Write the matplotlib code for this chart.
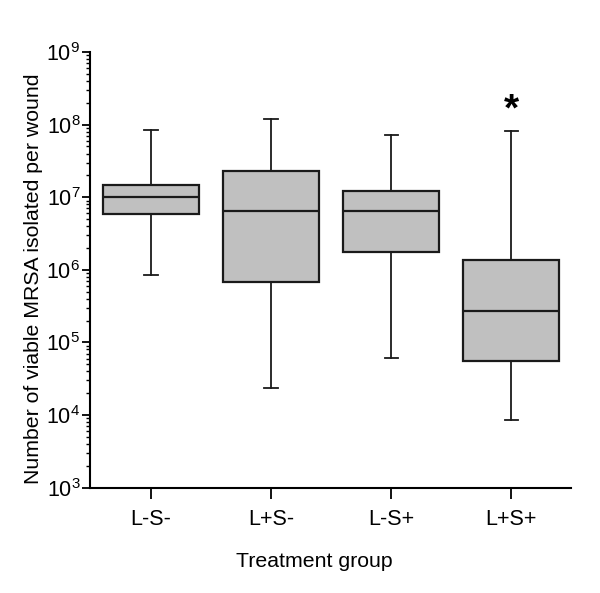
import matplotlib
matplotlib.use('Agg')
import matplotlib.pyplot as plt
import numpy as np

plt.rcParams['font.family'] = ['Liberation Sans', 'DejaVu Sans']
plt.rcParams['mathtext.fontset'] = 'custom'
plt.rcParams['mathtext.rm'] = 'Liberation Sans'
plt.rcParams['mathtext.it'] = 'Liberation Sans'

# valores (CFU por ferida)
grupos = ['L-S-', 'L+S-', 'L-S+', 'L+S+']
whis_min = [8.4e5, 2.35e4, 6.2e4, 8.6e3]
q1 = [5.9e6, 6.8e5, 1.74e6, 5.5e4]
mediana = [1.0e7, 6.4e6, 6.4e6, 2.7e5]
q3 = [1.46e7, 2.28e7, 1.2e7, 1.36e6]
whis_max = [8.4e7, 1.2e8, 7.3e7, 8.2e7]
signif = [False, False, False, True]

stats = []
for i in range(len(grupos)):
    stats.append({'whislo': whis_min[i], 'q1': q1[i], 'med': mediana[i],
                  'q3': q3[i], 'whishi': whis_max[i], 'fliers': []})

fig = plt.figure(figsize=(6, 5.93), dpi=100)
ax = fig.add_axes([0.15, 0.1776, 0.802, 0.7347])

ax.bxp(stats, positions=range(len(grupos)), widths=0.8, patch_artist=True,
       showfliers=False, capwidths=0.11,
       boxprops=dict(facecolor='#c0c0c0', edgecolor='#1a1a1a', linewidth=1.6),
       medianprops=dict(color='#1a1a1a', linewidth=1.6),
       whiskerprops=dict(color='#1a1a1a', linewidth=1.3),
       capprops=dict(color='#1a1a1a', linewidth=1.3))

for i in range(len(grupos)):
    if signif[i]:
        ax.text(i, 1.55e8, '*', ha='center', va='center', fontsize=28,
                fontweight='bold')

ax.set_yscale('log')
ax.set_ylim(1e3, 1e9)
ax.set_xlim(-0.508, 3.5)
ax.set_xticks(range(len(grupos)))
ax.set_xticklabels(grupos)

ax.spines['top'].set_visible(False)
ax.spines['right'].set_visible(False)
ax.spines['left'].set_linewidth(1.5)
ax.spines['bottom'].set_linewidth(1.5)
ax.tick_params(axis='x', direction='out', length=8, width=1.3, labelsize=15.5, pad=7)
ax.tick_params(axis='y', which='major', direction='out', length=6, width=1.3,
               labelsize=15.5, pad=1)
ax.tick_params(axis='y', which='minor', direction='out', length=3, width=1.0)
ax.yaxis.set_minor_locator(matplotlib.ticker.LogLocator(base=10, subs=np.arange(2, 10), numticks=20))
ax.yaxis.set_minor_formatter(matplotlib.ticker.NullFormatter())

ax.set_xlabel('Treatment group', fontsize=15.3)
ax.set_ylabel('Number of viable MRSA isolated per wound', fontsize=15.3)
ax.xaxis.set_label_coords(0.466, -0.147)
ax.yaxis.set_label_coords(-0.098, 0.479)

fig.savefig('out.png', dpi=100)
